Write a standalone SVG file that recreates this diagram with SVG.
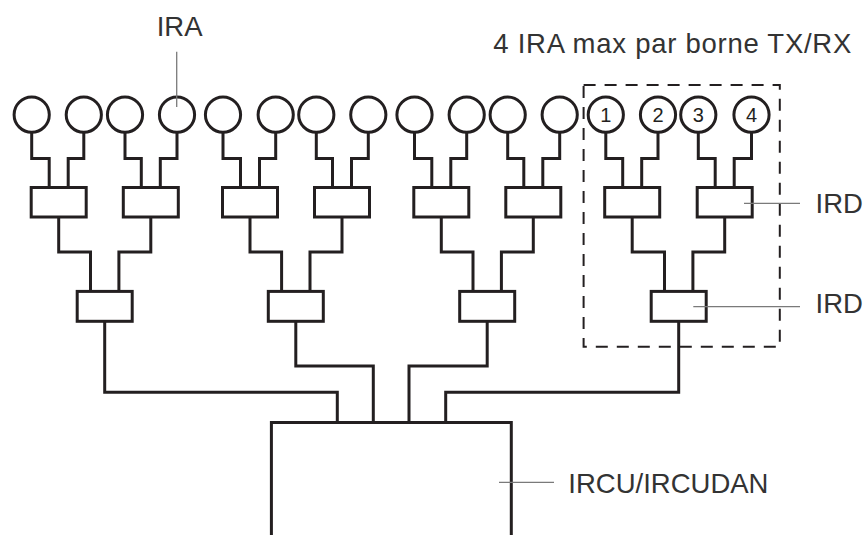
<svg xmlns="http://www.w3.org/2000/svg" width="865" height="535" viewBox="0 0 865 535">
<style>
.ln{fill:none;stroke:#231f20;stroke-width:3;stroke-linejoin:miter;stroke-linecap:square}
.nd{fill:#fff;stroke:#231f20;stroke-width:3}
.dash{fill:none;stroke:#231f20;stroke-width:2;stroke-dasharray:12 9}
.lead{fill:none;stroke:#7a7a7a;stroke-width:1.3}
.lbl{font-family:"Liberation Sans",Arial,sans-serif;font-size:27.5px;fill:#333}
.num{font-family:"Liberation Sans",Arial,sans-serif;font-size:20px;fill:#231f20;text-anchor:middle}
</style>
<rect width="865" height="535" fill="#fff"/>

<g id="connectors">
<path class="ln" d="M31.7,133 V158.5 H49.2 V187.5 M83.8,133 V158.5 H68.2 V187.5"/>
<path class="ln" d="M125,133 V158.5 H141.3 V187.5 M177,133 V158.5 H160.3 V187.5"/>
<path class="ln" d="M223,133 V158.5 H240.5 V187.5 M275.7,133 V158.5 H259.5 V187.5"/>
<path class="ln" d="M316.3,133 V158.5 H332.5 V187.5 M368.3,133 V158.5 H351.5 V187.5"/>
<path class="ln" d="M414.5,133 V158.5 H431.8 V187.5 M466.7,133 V158.5 H450.8 V187.5"/>
<path class="ln" d="M507.7,133 V158.5 H523.8 V187.5 M559.7,133 V158.5 H542.8 V187.5"/>
<path class="ln" d="M605.8,133 V158.5 H622.7 V187.5 M658,133 V158.5 H641.7 V187.5"/>
<path class="ln" d="M698.3,133 V158.5 H715.2 V187.5 M751.5,133 V158.5 H734.2 V187.5"/>
<path class="ln" d="M58.7,217 V252 H90.5 V291.4 M150.8,217 V252 H118.9 V291.4"/>
<path class="ln" d="M250,217 V252 H281.6 V291.4 M342,217 V252 H310 V291.4"/>
<path class="ln" d="M441.3,217 V252 H473 V291.4 M533.3,217 V252 H501.4 V291.4"/>
<path class="ln" d="M632.2,217 V252 H664.5 V291.4 M724.7,217 V252 H692.9 V291.4"/>
<path class="ln" d="M104.7,321.3 V392.3 H337.3 V422.4"/>
<path class="ln" d="M295.8,321.3 V366 H373.3 V422.4"/>
<path class="ln" d="M487.2,321.3 V366 H409 V422.4"/>
<path class="ln" d="M678.7,321.3 V392.3 H445.7 V422.4"/>
</g>

<g id="ira-nodes">
<g id="ira-1"><circle class="nd" cx="31.7" cy="114.7" r="17.6"/></g>
<g id="ira-2"><circle class="nd" cx="83.8" cy="114.7" r="17.6"/></g>
<g id="ira-3"><circle class="nd" cx="125" cy="114.7" r="17.6"/></g>
<g id="ira-4"><circle class="nd" cx="177" cy="114.7" r="17.6"/></g>
<g id="ira-5"><circle class="nd" cx="223" cy="114.7" r="17.6"/></g>
<g id="ira-6"><circle class="nd" cx="275.7" cy="114.7" r="17.6"/></g>
<g id="ira-7"><circle class="nd" cx="316.3" cy="114.7" r="17.6"/></g>
<g id="ira-8"><circle class="nd" cx="368.3" cy="114.7" r="17.6"/></g>
<g id="ira-9"><circle class="nd" cx="414.5" cy="114.7" r="17.6"/></g>
<g id="ira-10"><circle class="nd" cx="466.7" cy="114.7" r="17.6"/></g>
<g id="ira-11"><circle class="nd" cx="507.7" cy="114.7" r="17.6"/></g>
<g id="ira-12"><circle class="nd" cx="559.7" cy="114.7" r="17.6"/></g>
<g id="ira-13"><circle class="nd" cx="605.8" cy="114.7" r="17.6"/><text class="num" x="605.8" y="122">1</text></g>
<g id="ira-14"><circle class="nd" cx="658" cy="114.7" r="17.6"/><text class="num" x="658" y="122">2</text></g>
<g id="ira-15"><circle class="nd" cx="698.3" cy="114.7" r="17.6"/><text class="num" x="698.3" y="122">3</text></g>
<g id="ira-16"><circle class="nd" cx="751.5" cy="114.7" r="17.6"/><text class="num" x="751.5" y="122">4</text></g>
</g>

<g id="ird-level1">
<g id="ird-1"><rect class="nd" x="31.2" y="187.5" width="55" height="29.5"/></g>
<g id="ird-2"><rect class="nd" x="123.3" y="187.5" width="55" height="29.5"/></g>
<g id="ird-3"><rect class="nd" x="222.5" y="187.5" width="55" height="29.5"/></g>
<g id="ird-4"><rect class="nd" x="314.5" y="187.5" width="55" height="29.5"/></g>
<g id="ird-5"><rect class="nd" x="413.8" y="187.5" width="55" height="29.5"/></g>
<g id="ird-6"><rect class="nd" x="505.8" y="187.5" width="55" height="29.5"/></g>
<g id="ird-7"><rect class="nd" x="604.7" y="187.5" width="55" height="29.5"/></g>
<g id="ird-8"><rect class="nd" x="697.2" y="187.5" width="55" height="29.5"/></g>
</g>

<g id="ird-level2">
<g id="ird-9"><rect class="nd" x="77.2" y="291.4" width="55" height="29.9"/></g>
<g id="ird-10"><rect class="nd" x="268.3" y="291.4" width="55" height="29.9"/></g>
<g id="ird-11"><rect class="nd" x="459.7" y="291.4" width="55" height="29.9"/></g>
<g id="ird-12"><rect class="nd" x="651.2" y="291.4" width="55" height="29.9"/></g>
</g>

<g id="ircu">
<path class="ln" d="M271.4,540 V422.4 H511.3 V540" stroke-linecap="butt"/>
</g>

<g id="group-box">
<rect class="dash" x="583.6" y="85" width="196.2" height="261.8"/>
</g>

<g id="labels">
<line class="lead" x1="176.7" y1="51.7" x2="176.7" y2="107"/>
<text class="lbl" x="156.7" y="35.7">IRA</text>
<text class="lbl" x="493.3" y="53.3" textLength="358" lengthAdjust="spacing">4 IRA max par borne TX/RX</text>
<line class="lead" x1="744" y1="203.3" x2="800" y2="203.3"/>
<text class="lbl" x="815.5" y="212.7">IRD</text>
<line class="lead" x1="693.3" y1="306.7" x2="800" y2="306.7"/>
<text class="lbl" x="815.5" y="312.7">IRD</text>
<line class="lead" x1="499" y1="482.3" x2="554" y2="482.3"/>
<text class="lbl" x="568.3" y="493.3">IRCU/IRCUDAN</text>
</g>
</svg>
